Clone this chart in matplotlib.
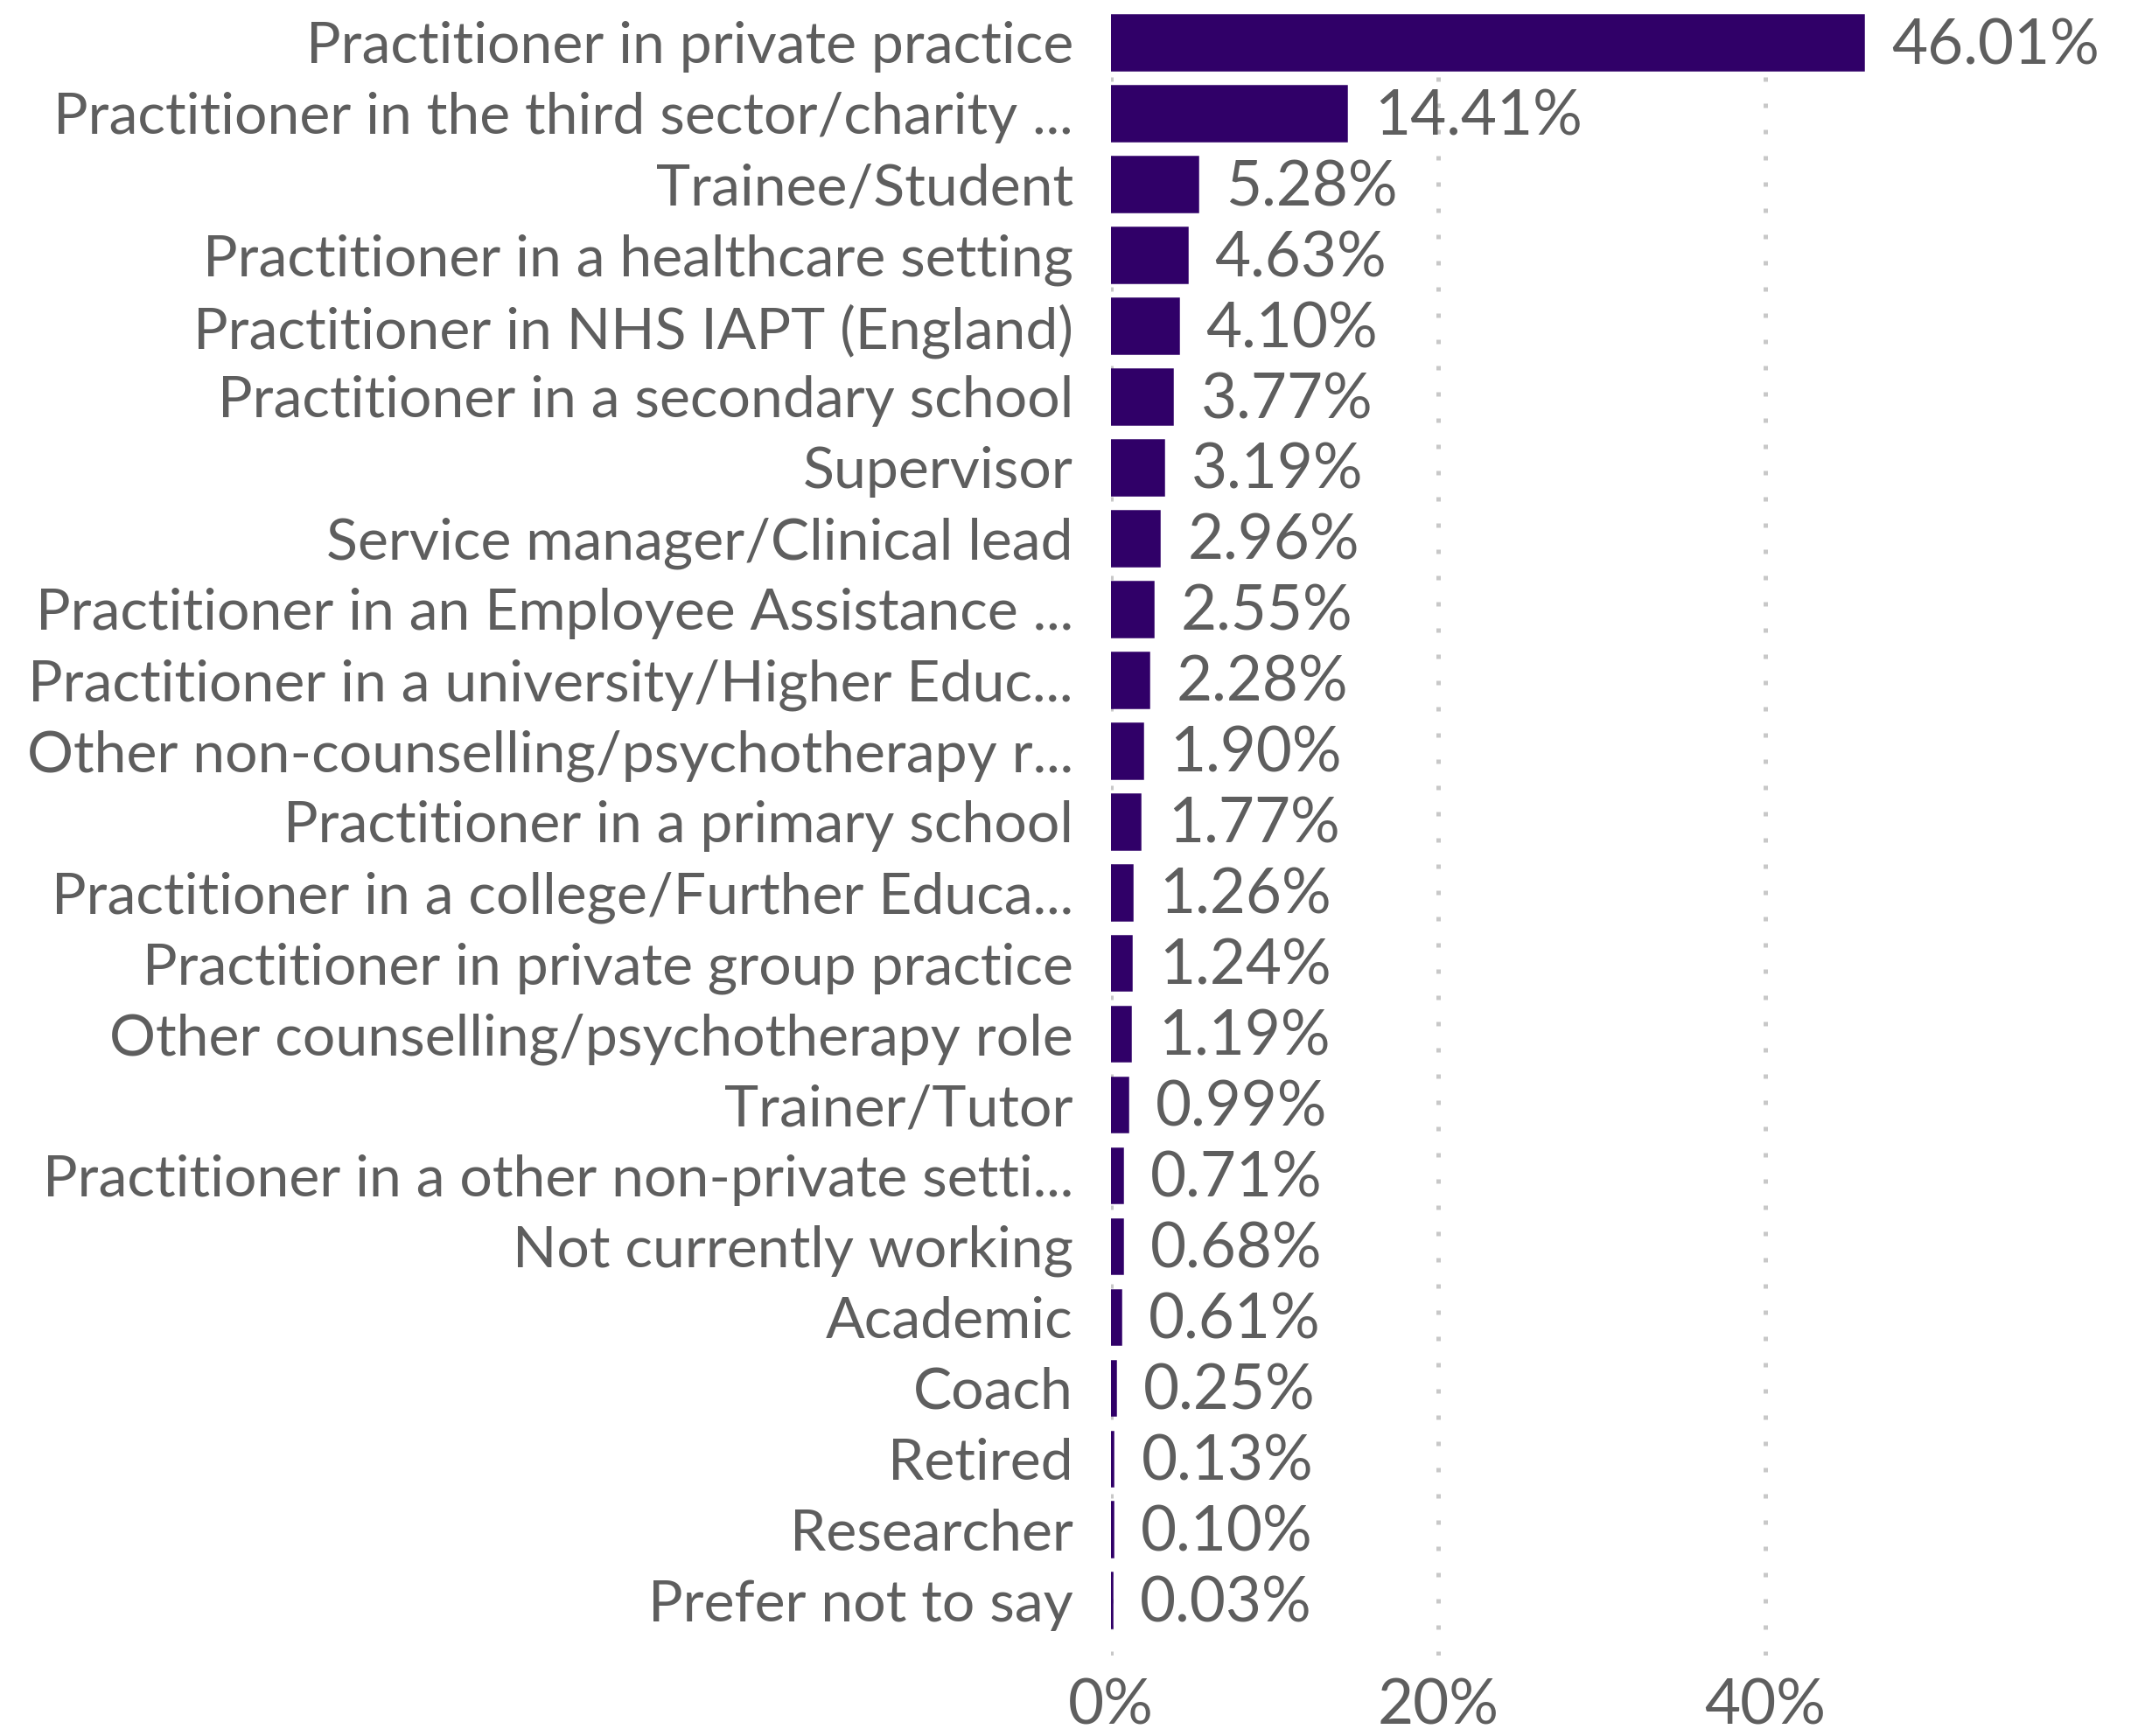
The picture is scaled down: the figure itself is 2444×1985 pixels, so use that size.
import matplotlib
matplotlib.use("Agg")
import matplotlib.pyplot as plt

categories = [
    "Practitioner in private practice",
    "Practitioner in the third sector/charity ...",
    "Trainee/Student",
    "Practitioner in a healthcare setting",
    "Practitioner in NHS IAPT (England)",
    "Practitioner in a secondary school",
    "Supervisor",
    "Service manager/Clinical lead",
    "Practitioner in an Employee Assistance ...",
    "Practitioner in a university/Higher Educ...",
    "Other non-counselling/psychotherapy r...",
    "Practitioner in a primary school",
    "Practitioner in a college/Further Educa...",
    "Practitioner in private group practice",
    "Other counselling/psychotherapy role",
    "Trainer/Tutor",
    "Practitioner in a other non-private setti...",
    "Not currently working",
    "Academic",
    "Coach",
    "Retired",
    "Researcher",
    "Prefer not to say",
]
values = [46.01, 14.41, 5.28, 4.63, 4.10, 3.77, 3.19, 2.96, 2.55, 2.28, 1.90,
          1.77, 1.26, 1.24, 1.19, 0.99, 0.71, 0.68, 0.61, 0.25, 0.13, 0.10, 0.03]
xticks = [0, 20, 40]
xtick_labels = ["0%", "20%", "40%"]

plt.rcParams['font.family'] = ['Lato', 'DejaVu Sans']
TEXT = '#5e5e5e'
BAR = '#300068'

W, H, DPI = 2444, 1985, 200
fig = plt.figure(figsize=(W / DPI, H / DPI), dpi=DPI)
left = 1270 / W
right = 2392 / W
top_px = 15.3
bottom_px = 1893
ax = fig.add_axes([left, 1 - bottom_px / H, right - left, (bottom_px - top_px) / H])

y = list(range(len(categories)))
ax.barh(y, values, height=0.775, color=BAR, edgecolor=BAR, linewidth=0.9, zorder=3)
ax.set_ylim(22.78, -0.41)
ax.set_xlim(0, 60)
ax.set_yticks(y)
ax.set_yticklabels(categories, fontsize=23.8, color=TEXT)
ax.set_xticks(xticks)
ax.set_xticklabels(xtick_labels, fontsize=25.5, color=TEXT)
ax.tick_params(axis='y', length=0, pad=15.5)
ax.tick_params(axis='x', length=0, pad=9)
for s in ax.spines.values():
    s.set_visible(False)
ax.grid(axis='x', color='#c8c8c8', linestyle=(0, (1, 5)), linewidth=1.8, zorder=0)
ax.grid(axis='y', visible=False)

for yi, v in zip(y, values):
    ax.annotate(f"{v:.2f}%", xy=(v, yi), xytext=(11.5, -1.5), textcoords='offset points',
                va='center', ha='left', fontsize=25.5, color=TEXT, clip_on=False)

fig.savefig("out.png", dpi=DPI)
